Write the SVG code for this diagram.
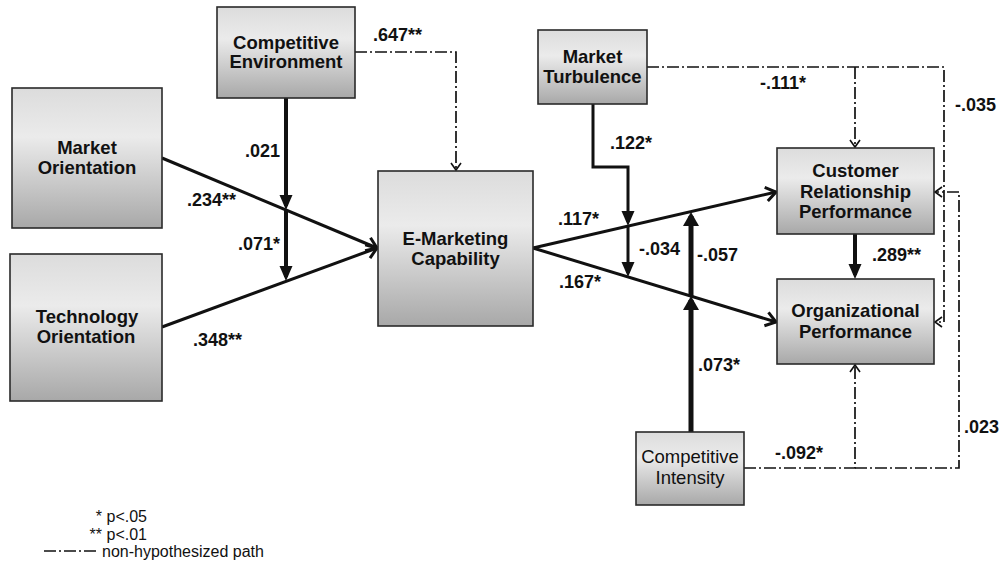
<svg xmlns="http://www.w3.org/2000/svg" width="1001" height="562" viewBox="0 0 1001 562">
<defs>
<linearGradient id="g" x1="0" y1="0" x2="0" y2="1">
<stop offset="0" stop-color="#dcdcdc"/>
<stop offset="0.35" stop-color="#ebebeb"/>
<stop offset="1" stop-color="#a8a8a8"/>
</linearGradient>
<marker id="chev" markerUnits="userSpaceOnUse" markerWidth="20" markerHeight="20" viewBox="-14 -10 20 20" refX="0" refY="0" orient="auto" overflow="visible">
<path d="M-10,-7 L0,0 L-10,7" fill="none" stroke="#111" stroke-width="3"/>
</marker>
<marker id="tri" markerUnits="userSpaceOnUse" markerWidth="20" markerHeight="20" viewBox="-16 -10 20 20" refX="-4" refY="0" orient="auto" overflow="visible">
<path d="M-15,-6.5 L0,0 L-15,6.5 Z" fill="#111"/>
</marker>
<marker id="tri2" markerUnits="userSpaceOnUse" markerWidth="20" markerHeight="20" viewBox="-16 -10 20 20" refX="-4" refY="0" orient="auto" overflow="visible">
<path d="M-14,-8 L0,0 L-14,8 Z" fill="#111"/>
</marker>
<marker id="sch" markerUnits="userSpaceOnUse" markerWidth="14" markerHeight="14" viewBox="-10 -7 14 14" refX="0" refY="0" orient="auto" overflow="visible">
<path d="M-7,-5 L0,0 L-7,5" fill="none" stroke="#111" stroke-width="1.6"/>
</marker>
</defs>
<style>
.box{fill:url(#g);stroke:#2a2a2a;stroke-width:1.6}
.nt{font-family:"Liberation Sans",Arial,sans-serif;font-size:18.5px;font-weight:bold;fill:#111;text-anchor:middle}
.nr{font-family:"Liberation Sans",Arial,sans-serif;font-size:18.5px;fill:#111;text-anchor:middle}
.lb{font-family:"Liberation Sans",Arial,sans-serif;font-size:18px;font-weight:bold;fill:#111}
.lg{font-family:"Liberation Sans",Arial,sans-serif;font-size:16px;fill:#111}
.s{fill:none;stroke:#111}
.dd{fill:none;stroke:#111;stroke-width:1.7;stroke-dasharray:12 3 2 3}
</style>
<rect width="1001" height="562" fill="#fff"/>

<g id="connectors">
<path class="s" stroke-width="3" d="M162,158 L377,248" marker-end="url(#chev)"/>
<path class="s" stroke-width="3" d="M162,327 L377,248" marker-end="url(#chev)"/>
<path class="s" stroke-width="4" d="M286,98 L286,206" marker-end="url(#tri)"/>
<path class="s" stroke-width="4" d="M286,210 L286,277" marker-end="url(#tri)"/>
<path class="s" stroke-width="3" d="M533,248 L776,192" marker-end="url(#chev)"/>
<path class="s" stroke-width="3" d="M533,248 L776,322" marker-end="url(#chev)"/>
<path class="s" stroke-width="3" d="M593,104 V167 H628 V222" marker-end="url(#tri)"/>
<path class="s" stroke-width="3" d="M628,226 V273" marker-end="url(#tri)"/>
<path class="s" stroke-width="5" d="M691,432 V300" marker-end="url(#tri2)"/>
<path class="s" stroke-width="5" d="M691,296 V216" marker-end="url(#tri2)"/>
<path class="s" stroke-width="4" d="M855,234 V275" marker-end="url(#tri)"/>
<path class="dd" d="M355,52 H456 V170" marker-end="url(#sch)"/>
<path class="dd" d="M647,67 H944 V322 H935" marker-end="url(#sch)"/>
<path class="dd" d="M855,67 V147" marker-end="url(#sch)"/>
<path class="dd" d="M744,468 H855 V365" marker-end="url(#sch)"/>
<path class="dd" d="M855,468 H959 V192 H935" marker-end="url(#sch)"/>
</g>

<g id="labels">
<text class="lb" x="373" y="41">.647**</text>
<text class="lb" x="245" y="157">.021</text>
<text class="lb" x="187" y="206">.234**</text>
<text class="lb" x="238" y="250">.071*</text>
<text class="lb" x="193" y="346">.348**</text>
<text class="lb" x="610" y="149">.122*</text>
<text class="lb" x="760" y="89">-.111*</text>
<text class="lb" x="955" y="111">-.035</text>
<text class="lb" x="558" y="225">.117*</text>
<text class="lb" x="639" y="255">-.034</text>
<text class="lb" x="697" y="261">-.057</text>
<text class="lb" x="872" y="261">.289**</text>
<text class="lb" x="559" y="288">.167*</text>
<text class="lb" x="698" y="371">.073*</text>
<text class="lb" x="775" y="459">-.092*</text>
<text class="lb" x="964" y="433">.023</text>
</g>

<g id="n-ce">
<rect class="box" x="217" y="7" width="138" height="91"/>
<text class="nt" x="286" y="49">Competitive</text>
<text class="nt" x="286" y="68">Environment</text>
</g>
<g id="n-mo">
<rect class="box" x="12" y="88" width="150" height="140"/>
<text class="nt" x="87" y="153.5">Market</text>
<text class="nt" x="87" y="173.5">Orientation</text>
</g>
<g id="n-to">
<rect class="box" x="10" y="254" width="152" height="147"/>
<text class="nt" x="87" y="323">Technology</text>
<text class="nt" x="86" y="343">Orientation</text>
</g>
<g id="n-emc">
<rect class="box" x="378" y="171" width="155" height="155"/>
<text class="nt" x="455.5" y="245">E-Marketing</text>
<text class="nt" x="455.5" y="265">Capability</text>
</g>
<g id="n-mt">
<rect class="box" x="538" y="30" width="109" height="74"/>
<text class="nt" x="592.5" y="63">Market</text>
<text class="nt" x="592.5" y="83">Turbulence</text>
</g>
<g id="n-crp">
<rect class="box" x="777" y="148" width="157" height="86"/>
<text class="nt" x="855.5" y="177">Customer</text>
<text class="nt" x="855.5" y="197.5">Relationship</text>
<text class="nt" x="855.5" y="217.5">Performance</text>
</g>
<g id="n-op">
<rect class="box" x="777" y="279" width="157" height="85"/>
<text class="nt" x="855.5" y="317">Organizational</text>
<text class="nt" x="855.5" y="338">Performance</text>
</g>
<g id="n-ci">
<rect class="box" x="636" y="432" width="108" height="73"/>
<text class="nr" x="690" y="463">Competitive</text>
<text class="nr" x="690" y="484">Intensity</text>
</g>

<g id="legend">
<text class="lg" x="147" y="522" text-anchor="end">* p&lt;.05</text>
<text class="lg" x="147" y="539.5" text-anchor="end">** p&lt;.01</text>
<path class="dd" d="M44,551 H97" stroke-dasharray="6 2 2 2" stroke-width="1.2"/>
<text class="lg" x="102" y="556.5">non-hypothesized path</text>
</g>
</svg>
